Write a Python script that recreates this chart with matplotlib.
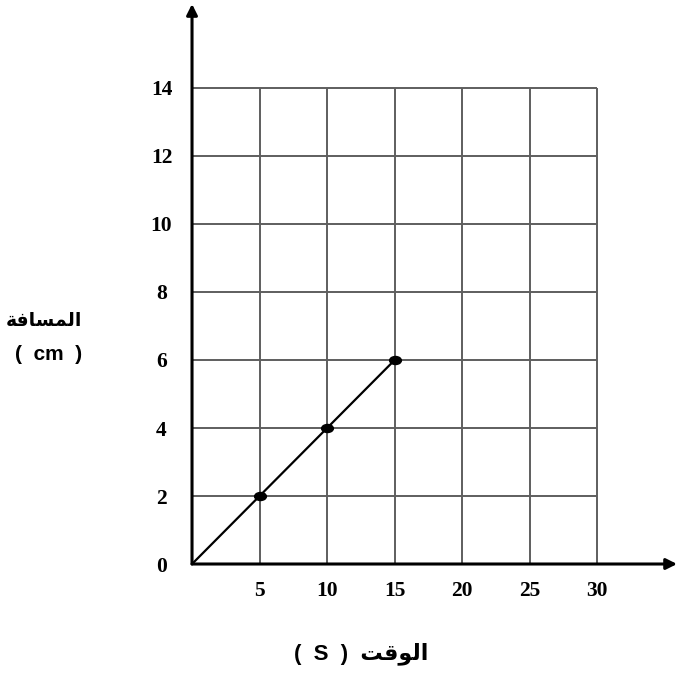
import matplotlib
matplotlib.use("Agg")
import matplotlib.pyplot as plt
from matplotlib.path import Path
from matplotlib.transforms import Affine2D

# البيانات
times = [0, 5, 10, 15]
distances = [0, 2, 4, 6]
xTicks = [5, 10, 15, 20, 25, 30]
yTicks = [0, 2, 4, 6, 8, 10, 12, 14]
gridX = [0, 5, 10, 15, 20, 25, 30]
gridY = [0, 2, 4, 6, 8, 10, 12, 14]

# نصوص عربية بصيغ العرض (ترتيب بصري)
yLabelAr = "\uFE94\uFED3\uFE8E\uFEB4\uFEE4\uFEDF\uFE8D"   # المسافة
xLabelAr = "\uFE96\uFED7\uFEEE\uFEDF\uFE8D"               # الوقت

fig = plt.figure(figsize=(6.79, 6.77), dpi=100)
ax = fig.add_axes([0.2828, 0.1669, 0.7143, 0.8272])
ax.set_xlim(0, 35.9)
ax.set_ylim(0, 16.47)
for s in ax.spines.values():
    s.set_visible(False)

# الشبكة
ax.vlines(gridX, 0, 14, colors='#5e5e5e', linewidth=1.4)
ax.hlines(gridY, 0, 30, colors='#5e5e5e', linewidth=1.4)

# المحاور بالأسهم
ax.annotate('', xy=(35.9, 0), xytext=(0, 0),
            arrowprops=dict(arrowstyle='-|>', color='black', lw=2.2,
                            mutation_scale=16, shrinkA=0, shrinkB=0),
            annotation_clip=False)
ax.annotate('', xy=(0, 16.47), xytext=(0, 0),
            arrowprops=dict(arrowstyle='-|>', color='black', lw=2.2,
                            mutation_scale=16, shrinkA=0, shrinkB=0),
            annotation_clip=False)

# الخط والنقاط
ellipse = Path.unit_circle().transformed(Affine2D().scale(1.0, 0.68))
ax.plot(times, distances, color='black', linewidth=1.6, zorder=3)
ax.plot(times[1:], distances[1:], linestyle='none', marker=ellipse,
        markersize=8.5, color='black', zorder=4)

# التدريجات
serif = dict(family='Liberation Serif', weight='bold', size=15.5)
ax.set_xticks(xTicks)
ax.set_xticklabels([str(v) for v in xTicks], fontdict=serif)
ax.set_yticks(yTicks)
ax.set_yticklabels([str(v) for v in yTicks], fontdict=serif, ha='center')
ax.tick_params(axis='x', length=0, pad=12)
ax.tick_params(axis='y', length=0, pad=22)

# عناوين المحاور
fam = ['Liberation Sans', 'DejaVu Sans']
fig.text(44 / 679, 1 - 320 / 677, yLabelAr, family=['DejaVu Sans'],
         weight='bold', size=13.5, ha='center', va='center')
fig.text(49 / 679, 1 - 355 / 677, '(  cm  )', family=fam,
         weight='bold', size=15, ha='center', va='center')
fig.text(361 / 679, 1 - 654 / 677, '(  S  )  ' + xLabelAr, family=fam,
         weight='bold', size=16, ha='center', va='center')

fig.savefig('out.png', dpi=100)
